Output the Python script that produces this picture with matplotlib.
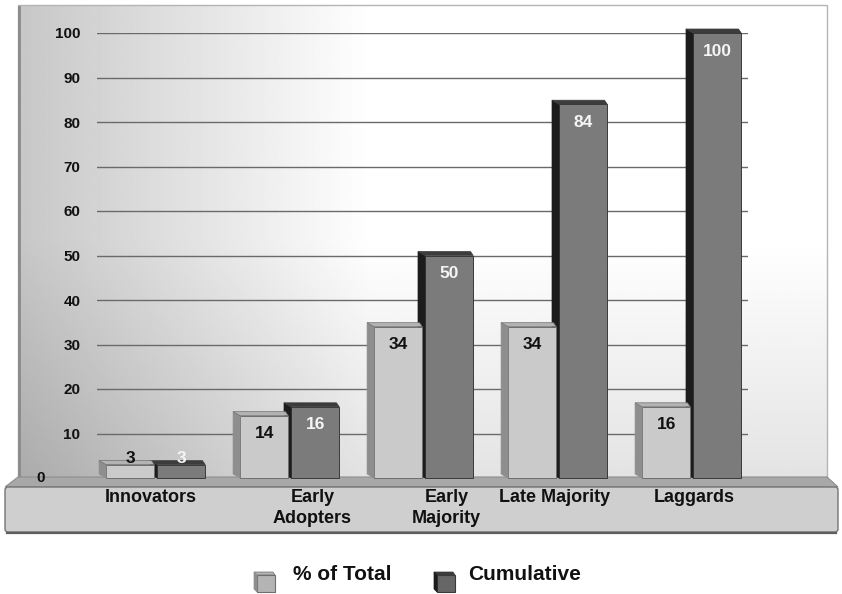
import numpy as np
import matplotlib
matplotlib.use("Agg")
import matplotlib.pyplot as plt
from matplotlib.patches import Polygon, Rectangle, FancyBboxPatch

# ---- data -------------------------------------------------------------
categories = ["Innovators", "Early\nAdopters", "Early\nMajority", "Late Majority", "Laggards"]
pct_total = [3, 14, 34, 34, 16]
cumulative = [3, 16, 50, 84, 100]
series_names = ["% of Total", "Cumulative"]
y_ticks = [10, 20, 30, 40, 50, 60, 70, 80, 90, 100]

# ---- styling ----------------------------------------------------------
FONT = ["Liberation Sans", "DejaVu Sans"]
plt.rcParams["font.family"] = FONT

LIGHT = dict(front="#cacaca", side="#8e8e8e", top="#b3b3b3", edge="#6e6e6e", text="#111111")
DARK = dict(front="#7b7b7b", side="#1c1c1c", top="#3c3c3c", edge="#3a3a3a", text="#f5f5f5")

W, H = 842, 594
fig = plt.figure(figsize=(W / 100, H / 100), dpi=100)

# background layer in pixel units: back wall and floor slab
bg = fig.add_axes([0, 0, 1, 1])
bg.set_xlim(0, W)
bg.set_ylim(H, 0)
bg.axis("off")

wall_l, wall_r, wall_t, wall_b = 18, 827, 5, 480
xs = np.linspace(wall_l, wall_r, 500)
ys = np.linspace(wall_t, wall_b, 300)
hx = 0.78 + 0.22 * np.clip((xs - wall_l) / (370 - wall_l), 0, 1)
vy = 0.11 * np.clip((ys - 240) / (wall_b - 240), 0, 1)
shade = np.clip(hx[None, :] - vy[:, None], 0, 1)
bg.imshow(shade, cmap="gray", vmin=0, vmax=1, extent=(wall_l, wall_r, wall_b, wall_t),
          aspect="auto", zorder=0, interpolation="bilinear")
bg.add_patch(Rectangle((wall_l, wall_t), wall_r - wall_l, wall_b - wall_t, fill=False,
                       edgecolor="#b4b4b4", linewidth=1.0, zorder=1))
bg.plot([wall_l + 1, wall_l + 1], [wall_t + 2, wall_b], color="#8a8a8a", lw=2, zorder=1)

# floor: top surface and front face
bg.add_patch(Polygon([(wall_l, 477), (wall_r, 477), (838, 487), (5, 487)],
                     closed=True, facecolor="#a8a8a8", edgecolor="#8e8e8e", lw=0.8, zorder=2))
bg.add_patch(FancyBboxPatch((5, 487), 833, 45, boxstyle="round,pad=0,rounding_size=3",
                            facecolor="#cfcfcf", edgecolor="#747474", lw=1.0, zorder=2))
bg.plot([7, 836], [532.5, 532.5], color="#5e5e5e", lw=1.6, zorder=3)
bg.text(45, 478, "0", ha="right", va="center", fontsize=11, fontweight="bold", color="#111111")

# ---- main plot ----------------------------------------------------------
ax_l, ax_r, ax_t, ax_b = 97, 748, 33, 478
ax = fig.add_axes([ax_l / W, (H - ax_b) / H, (ax_r - ax_l) / W, (ax_b - ax_t) / H])
ax.set_facecolor("none")
group_px0, group_step = 157, 134
xmin = (ax_l - group_px0) / group_step
xmax = (ax_r - group_px0) / group_step
ax.set_xlim(xmin, xmax)
ax.set_ylim(0, 100)
for s in ax.spines.values():
    s.set_visible(False)

px_x = (xmax - xmin) / (ax_r - ax_l)
px_y = 100 / (ax_b - ax_t)

ax.set_yticks(y_ticks)
ax.set_yticklabels([str(t) for t in y_ticks], fontsize=11, fontweight="bold", color="#111111")
ax.tick_params(axis="y", length=0, pad=12)
ax.yaxis.grid(True, color="#6a6a6a", linewidth=1.0)
ax.set_axisbelow(True)

# category labels sit on the floor slab
label_shift = [-0.05, 0.16, 0.16, -0.03, 0.01]
idx = np.arange(len(categories))
ax.set_xticks(idx + np.array(label_shift))
ax.set_xticklabels(categories, fontsize=13, fontweight="bold", color="#111111",
                   linespacing=1.3)
ax.tick_params(axis="x", length=0, pad=8)

bar_w = 0.36
dx, dy = 7 * px_x, 4 * px_y


def bar3d(x, h, style, z):
    bars = ax.bar(x, h, bar_w, color=style["front"], edgecolor=style["edge"], linewidth=0.7, zorder=z)
    for b in bars:
        b.set_clip_on(False)
    x0, x1 = x - bar_w / 2, x + bar_w / 2
    ax.add_patch(Polygon([(x0, 0), (x0, h), (x0 - dx, h + dy), (x0 - dx, dy)], closed=True,
                         facecolor=style["side"], edgecolor=style["side"], lw=0.5, zorder=z,
                         clip_on=False))
    ax.add_patch(Polygon([(x0, h), (x1, h), (x1 - dx * 0.4, h + dy), (x0 - dx, h + dy)], closed=True,
                         facecolor=style["top"], edgecolor=style["edge"], lw=0.5, zorder=z,
                         clip_on=False))


def value_label(x, v, style):
    if v >= 8:
        ax.text(x, v - 18 * px_y, str(v), ha="center", va="center", fontsize=12.5,
                fontweight="bold", color=style["text"], zorder=10)
    else:
        ax.text(x, v + 2 * px_y, str(v), ha="center", va="baseline", fontsize=12.5,
                fontweight="bold", color=style["text"], zorder=10)


for i in idx:
    xd = i + 0.18
    xl = i - 0.20
    bar3d(xd, cumulative[i], DARK, 3)
    bar3d(xl, pct_total[i], LIGHT, 4)
    value_label(xd, cumulative[i], DARK)
    value_label(xl, pct_total[i], LIGHT)

# ---- legend -------------------------------------------------------------
def legend_box(x, y, w, h, style):
    bg.add_patch(Rectangle((x, y), w, h, facecolor=style["front"], edgecolor=style["edge"],
                           lw=0.8, zorder=5))
    bg.add_patch(Polygon([(x, y), (x + w, y), (x + w - 2, y - 3), (x - 3, y - 3)], closed=True,
                         facecolor=style["top"], edgecolor=style["edge"], lw=0.5, zorder=5))
    bg.add_patch(Polygon([(x, y), (x, y + h), (x - 3, y + h - 3), (x - 3, y - 3)], closed=True,
                         facecolor=style["side"], edgecolor=style["side"], lw=0.5, zorder=5))


legend_style = [dict(LIGHT, front="#b4b4b4"), dict(DARK, front="#666666")]
legend_x = [(257, 293), (437, 468)]
for name, st, (bx, tx) in zip(series_names, legend_style, legend_x):
    legend_box(bx, 575, 18, 17, st)
    bg.text(tx, 575, name, ha="left", va="center", fontsize=15, fontweight="bold", color="#111111")

fig.savefig("out.png", dpi=100)
